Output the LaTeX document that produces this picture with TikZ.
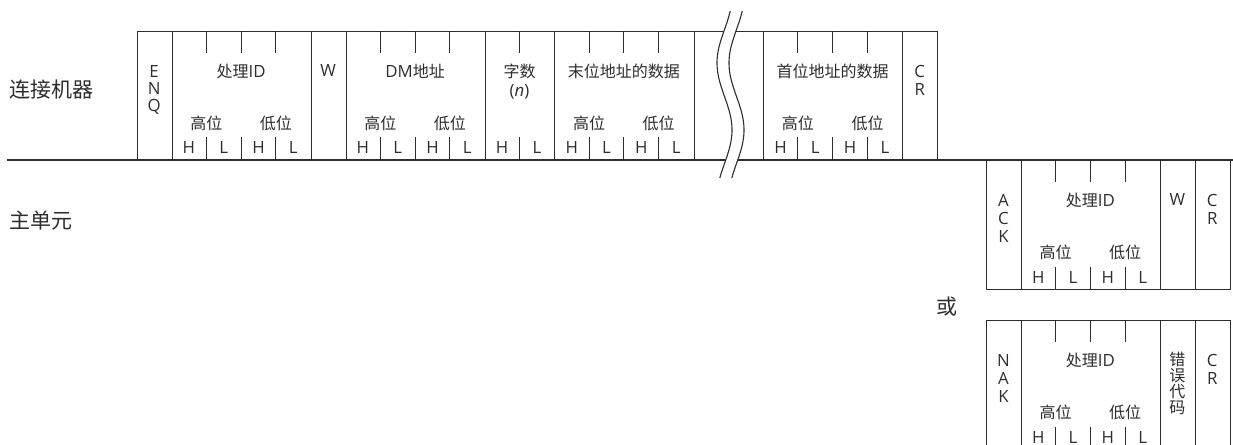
\documentclass[tikz,border=0pt]{standalone}
\usepackage{fontspec}
\setmainfont{Open Sans}[Scale=1.05]
\newfontfamily\cjk{Noto Sans CJK SC}
\usetikzlibrary{positioning,calc}
\definecolor{framegray}{RGB}{45,45,45}
\definecolor{textgray}{RGB}{45,45,45}
\tikzset{
 field/.style={rectangle,draw=framegray,line width=1.1pt,anchor=north west,inner sep=0pt,minimum height=129.3pt},
 tick/.style={draw=framegray,line width=1.1pt},
 boxtext/.style={text=textgray,font=\fontsize{16}{17}\selectfont,inner sep=0pt,align=center},
 stack/.style={boxtext,anchor=north},
 sidetext/.style={text=textgray,font=\fontsize{21}{25}\selectfont\cjk,inner sep=0pt,anchor=west},
 timeline/.style={draw=framegray,line width=1.8pt},
 wave/.style={draw=framegray,line width=1.1pt}}

\begin{document}
\begin{tikzpicture}[x=1pt,y=-1pt]
\useasboundingbox (0,0) rectangle (1233,444);
\clip (0,0) rectangle (1233,444);
% request from the connected device
\begin{scope}[shift={(136.7pt,-30.7pt)},x=34.8pt,y=-1pt]
\node[field,minimum width=34.8pt] (enq) at (0,0) {};
\node[field,minimum width=139.2pt] (pid) at (1,0) {};
\node[field,minimum width=34.8pt] (cmd) at (5,0) {};
\node[field,minimum width=139.2pt] (dm) at (6,0) {};
\node[field,minimum width=69.6pt] (cnt) at (10,0) {};
\node[field,minimum width=139.2pt] (last) at (12,0) {};
\node[field,minimum width=69.6pt] (skip) at (16,0) {};
\node[field,minimum width=139.2pt] (first) at (18,0) {};
\node[field,minimum width=34.8pt] (cr) at (22,0) {};
\foreach \k in {2,3,4,7,8,9,11,13,14,15,19,20,21} {\draw[tick] (\k,0)--(\k,22); \draw[tick] (\k,106.6)--(\k,129.3);}
\foreach \k/\b in {1/H,2/L,3/H,4/L,6/H,7/L,8/H,9/L,10/H,11/L,12/H,13/L,14/H,15/L,18/H,19/L,20/H,21/L}
  \node[boxtext] (byte\k) at (\k+0.5,117.3) {\b};
\foreach \k/\t in {2/高位,4/低位,7/高位,9/低位,13/高位,15/低位,19/高位,21/低位}
  \node[boxtext] (half\k) at (\k,92.3) {\cjk\t};
\node[stack] (enqt) at (0.5,34.5) {E\\N\\Q};
\node[boxtext] (pidt) at (3,40.5) {{\cjk 处理}ID};
\node[boxtext] (cmdt) at (5.5,40) {W};
\node[boxtext] (dmt) at (8,40.5) {DM{\cjk 地址}};
\node[stack,font=\fontsize{16}{19}\selectfont] (cntt) at (11,33.5) {{\cjk 字数}\\(\textit{n})};
\node[boxtext] (lastt) at (14,40.5) {\cjk 末位地址的数据};
\node[boxtext] (firstt) at (20,40.5) {\cjk 首位地址的数据};
\node[stack,font=\fontsize{16}{18.5}\selectfont] (crt) at (22.5,34) {C\\R};
\end{scope}
% response, normal
\begin{scope}[shift={(986pt,-160pt)},x=34.8pt,y=-1pt]
\node[field,minimum width=34.8pt] (ack) at (0,0) {};
\node[field,minimum width=139.2pt] (ackpid) at (1,0) {};
\node[field,minimum width=34.8pt] (ackcmd) at (5,0) {};
\node[field,minimum width=34.8pt] (ackcr) at (6,0) {};
\foreach \k in {2,3,4} {\draw[tick] (\k,0)--(\k,22); \draw[tick] (\k,106.6)--(\k,129.3);}
\foreach \k/\b in {1/H,2/L,3/H,4/L} \node[boxtext] (ackbyte\k) at (\k+0.5,117.3) {\b};
\node[boxtext] (ackhi) at (2,92.3) {\cjk 高位};
\node[boxtext] (acklo) at (4,92.3) {\cjk 低位};
\node[stack,font=\fontsize{16}{18}\selectfont] (ackt) at (0.5,34.5) {A\\C\\K};
\node[boxtext] (ackpidt) at (3,40.5) {{\cjk 处理}ID};
\node[boxtext] (ackcmdt) at (5.5,40) {W};
\node[stack,font=\fontsize{16}{18.5}\selectfont] (ackcrt) at (6.5,34) {C\\R};
\end{scope}
% response, error
\begin{scope}[shift={(986pt,-320pt)},x=34.8pt,y=-1pt]
\node[field,minimum width=34.8pt] (nak) at (0,0) {};
\node[field,minimum width=139.2pt] (nakpid) at (1,0) {};
\node[field,minimum width=34.8pt] (nakerr) at (5,0) {};
\node[field,minimum width=34.8pt] (nakcr) at (6,0) {};
\foreach \k in {2,3,4} {\draw[tick] (\k,0)--(\k,22); \draw[tick] (\k,106.6)--(\k,129.3);}
\foreach \k/\b in {1/H,2/L,3/H,4/L} \node[boxtext] (nakbyte\k) at (\k+0.5,117.3) {\b};
\node[boxtext] (nakhi) at (2,92.3) {\cjk 高位};
\node[boxtext] (naklo) at (4,92.3) {\cjk 低位};
\node[stack,font=\fontsize{16}{18}\selectfont] (nakt) at (0.5,34.5) {N\\A\\K};
\node[boxtext] (nakpidt) at (3,40.5) {{\cjk 处理}ID};
\node[stack,font=\fontsize{16}{16}\selectfont\cjk] (nakerrt) at (5.5,32) {错\\误\\代\\码};
\node[stack,font=\fontsize{16}{18.5}\selectfont] (nakcrt) at (6.5,34) {C\\R};
\end{scope}
% time line and break mark
\coordinate (lineL) at (6.7,160);
\coordinate (lineR) at (1233,160);
\draw[timeline] (lineL)--(lineR);
\fill[white] plot[domain=11:178,samples=80] ({724.5-7.5*sin((\x-29.5)*2.6866)},\x)
  -- plot[domain=178:11,samples=80] ({736.5-7.5*sin((\x-29.5)*2.6866)},\x) -- cycle;
\draw[wave] plot[domain=11:178,samples=80] ({724.5-7.5*sin((\x-29.5)*2.6866)},\x);
\draw[wave] plot[domain=11:178,samples=80] ({736.5-7.5*sin((\x-29.5)*2.6866)},\x);
\node[sidetext] (dev) at (9,90) {连接机器};
\node[sidetext] (unit) at (9,221) {主单元};
\node[sidetext,anchor=center] (alt) at (946.7,307) {或};
\end{tikzpicture}
\end{document}
